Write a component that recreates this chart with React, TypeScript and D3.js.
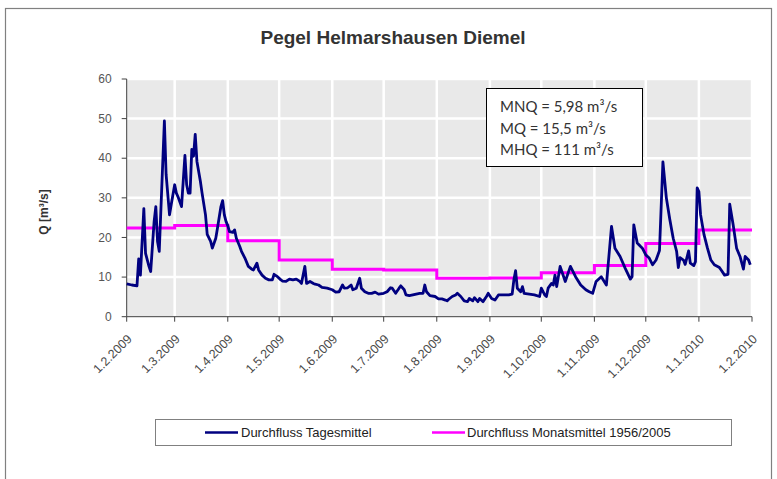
import * as d3 from 'd3'

// Durchfluss Tagesmittel: [Tage seit 1.2.2009, Q in m³/s]
const TAGESMITTEL: [number, number][] = [
  [0, 8.3], [3, 8.0], [6, 7.8], [7, 14.6], [8, 10.5], [10, 27.3], [11, 16.0], [13, 12.7], [14, 11.4],
  [16, 24.0], [17, 27.8], [18, 19.0], [19, 16.5], [22, 49.4], [23, 35.9], [25, 25.7], [26, 28.3],
  [28, 33.3], [29, 31.2], [30, 30.2], [31, 29.0], [32, 27.8], [34, 40.7], [35, 33.3], [36, 31.2],
  [37, 31.2], [38, 42.2], [39, 40.5], [40, 46.0], [41, 39.2], [43, 34.2], [44, 31.2], [46, 25.7],
  [47, 20.8], [49, 19.0], [50, 17.3], [52, 19.8], [53, 22.4], [55, 27.8], [56, 29.3], [57, 25.7], [58, 24.0],
  [59, 23.0], [60, 21.5], [62, 21.3], [63, 21.9], [64, 19.8], [66, 17.7], [67, 16.5], [69, 14.8],
  [71, 12.7], [73, 12.0], [74, 11.8], [76, 13.5], [77, 11.8], [79, 10.5], [81, 9.7], [83, 9.3],
  [85, 9.3], [86, 10.7], [88, 10.1],
  [90, 9.3], [91, 9.0], [93, 8.9], [95, 9.5], [97, 9.3], [99, 9.5], [101, 8.9], [102, 8.4],
  [104, 12.7], [105, 8.4], [107, 8.9], [109, 8.4], [110, 8.2], [112, 8.0], [114, 7.4], [117, 7.2],
  [120, 6.8], [122, 6.2], [124, 6.3], [126, 8.0], [127, 7.2], [129, 7.3], [131, 8.0], [132, 6.8],
  [134, 7.2], [136, 9.7], [137, 7.2], [139, 6.3], [141, 5.9], [143, 5.9], [145, 6.2], [147, 5.7],
  [150, 5.9], [152, 6.3], [154, 7.3], [155, 7.2], [157, 5.9], [159, 7.2], [160, 7.8], [162, 6.8],
  [163, 5.5], [165, 5.3], [167, 5.5], [169, 5.7], [171, 5.9], [173, 5.9], [174, 8.0], [175, 6.3],
  [177, 5.3], [180, 5.1],
  [182, 4.5], [184, 4.5], [186, 4.2], [187, 4.0], [188, 4.4], [190, 5.1], [192, 5.5], [193, 5.9],
  [195, 5.1], [197, 4.0], [199, 3.8], [200, 4.6], [202, 4.0], [203, 4.8], [205, 3.8], [206, 4.6],
  [208, 3.8], [210, 5.1], [211, 5.9],
  [213, 4.6], [215, 4.2], [217, 5.5], [220, 5.5], [223, 5.5], [225, 5.7], [226, 9.3], [227, 11.6],
  [228, 7.2], [230, 6.3], [231, 7.6], [232, 5.9], [235, 5.7], [238, 5.5], [241, 5.1],
  [242, 7.2], [244, 5.5], [245, 5.1], [246, 7.2], [248, 8.4], [249, 8.0], [250, 10.5], [251, 7.6],
  [253, 12.7], [256, 8.9], [259, 12.7], [262, 10.1], [265, 8.0], [268, 6.8], [270, 6.3], [272, 5.9],
  [274, 8.9], [277, 10.1], [280, 8.0], [283, 22.8], [285, 17.3], [288, 15.2], [291, 12.2], [294, 9.5],
  [295, 10.1], [296, 23.2], [298, 18.6], [300, 17.7], [301, 17.3],
  [303, 15.6], [305, 14.8], [307, 13.1], [309, 14.3], [311, 16.7], [313, 39.1], [315, 30.0], [317, 24.6],
  [319, 19.8], [321, 16.5], [322, 12.4], [323, 14.9], [325, 14.3], [326, 13.2], [328, 16.6], [329, 13.5],
  [331, 12.9], [332, 13.9], [333, 32.5],
  [334, 31.6], [335, 25.7], [337, 20.7], [339, 17.3], [341, 14.3], [343, 13.1], [346, 12.4], [347, 11.8],
  [349, 10.5], [351, 10.7], [352, 28.4], [354, 23.2], [356, 17.3], [358, 15.2], [360, 12.0], [361, 15.2],
  [363, 14.3], [364, 13.1],
]

// Durchfluss Monatsmittel 1956/2005, Feb .. Jan
const MONATSMITTEL = [22.4, 23.0, 19.2, 14.3, 12.0, 11.8, 9.7, 9.8, 11.1, 12.9, 18.5, 21.9]

const Y_TICKS = [0, 10, 20, 30, 40, 50, 60]
const KENNWERTE = ['MNQ = 5,98 m³/s', 'MQ = 15,5 m³/s', 'MHQ = 111 m³/s']
const LEGEND = ['Durchfluss Tagesmittel', 'Durchfluss Monatsmittel 1956/2005']
const TITLE = 'Pegel Helmarshausen Diemel'

const W = 777
const H = 479
const LEFT = 126.7
const RIGHT = 752
const TOP = 79
const BOTTOM = 316.7
const BLUE = '#000080'
const MAGENTA = '#ff00ff'
const FONT = '"Liberation Sans", Arial, sans-serif'

const START = new Date(2009, 1, 1)
const END = new Date(2010, 1, 1)

const x = d3.scaleTime().domain([START, END]).range([LEFT, RIGHT])
const y = d3.scaleLinear().domain([0, 60]).range([BOTTOM, TOP])

const monthTicks = d3.timeMonth.range(START, d3.timeDay.offset(END, 1))
const fmt = (d: Date) => `${d.getDate()}.${d.getMonth() + 1}.${d.getFullYear()}`

const dailyLine = d3.line<[number, number]>()
  .x((d) => x(d3.timeDay.offset(START, d[0])))
  .y((d) => y(d[1]))

const monthPts: [Date, number][] = MONATSMITTEL.map((v, i) => [monthTicks[i], v])
monthPts.push([END, MONATSMITTEL[MONATSMITTEL.length - 1]])
const stepLine = d3.line<[Date, number]>()
  .x((d) => x(d[0]))
  .y((d) => y(d[1]))
  .curve(d3.curveStepAfter)

export default function App() {
  return (
    <svg width={W} height={H} style={{ position: 'absolute', left: 0, top: 0, background: '#fff' }} fontFamily={FONT}>
      {/* chart frame */}
      <rect x={5.5} y={8.5} width={766} height={H} fill="#fff" stroke="#808080" strokeWidth={1.2} />

      <text x={393} y={44} textAnchor="middle" fontSize={19} fontWeight="bold" fill="#333">{TITLE}</text>

      {/* plot area */}
      <rect x={LEFT} y={TOP} width={RIGHT - LEFT} height={BOTTOM - TOP} fill="#e9e9e9" />
      {Y_TICKS.filter((t) => t > 0).map((t) => (
        <line key={t} x1={LEFT} x2={RIGHT} y1={y(t)} y2={y(t)} stroke="#fff" strokeWidth={2.5} />
      ))}
      {monthTicks.slice(1).map((d) => (
        <line key={+d} x1={x(d)} x2={x(d)} y1={TOP} y2={BOTTOM} stroke="#fff" strokeWidth={2.5} />
      ))}

      {/* axes */}
      <line x1={LEFT} x2={LEFT} y1={TOP} y2={BOTTOM} stroke="#404040" strokeWidth={1} />
      <line x1={LEFT} x2={RIGHT} y1={BOTTOM} y2={BOTTOM} stroke="#404040" strokeWidth={1} />
      {Y_TICKS.map((t) => (
        <g key={t}>
          <line x1={LEFT - 5} x2={LEFT} y1={y(t)} y2={y(t)} stroke="#404040" />
          <text x={LEFT - 15} y={y(t)} dy="0.35em" textAnchor="end" fontSize={12} fill="#555">{t}</text>
        </g>
      ))}
      {monthTicks.map((d) => (
        <g key={+d}>
          <line x1={x(d)} x2={x(d)} y1={BOTTOM} y2={BOTTOM + 5} stroke="#404040" />
          <text
            transform={`translate(${x(d) + 6}, ${BOTTOM + 23}) rotate(-45)`}
            textAnchor="end"
            fontSize={12.5}
            fill="#4a4a4a"
          >
            {fmt(d)}
          </text>
        </g>
      ))}
      <text transform={`translate(48, 212) rotate(-90)`} textAnchor="middle" fontSize={12} fontWeight="bold" fill="#333">
        Q [m³/s]
      </text>

      {/* series */}
      <path d={stepLine(monthPts) ?? ''} fill="none" stroke={MAGENTA} strokeWidth={3} />
      <path d={dailyLine(TAGESMITTEL) ?? ''} fill="none" stroke={BLUE} strokeWidth={2.8} strokeLinejoin="round" />

      {/* Kennwerte */}
      <rect x={486.5} y={88.5} width={156} height={78} fill="#fff" stroke="#000" strokeWidth={1} />
      {KENNWERTE.map((t, i) => (
        <text key={t} x={500} y={112 + i * 21.5} fontSize={15} fill="#333" fontFamily='Lato, "Open Sans", sans-serif'>{t}</text>
      ))}

      {/* legend */}
      <rect x={155.5} y={419.5} width={576} height={26} fill="#fff" stroke="#808080" strokeWidth={1} />
      <line x1={205} x2={238} y1={432.5} y2={432.5} stroke={BLUE} strokeWidth={2.5} />
      <text x={241} y={432.5} dy="0.35em" fontSize={13} fill="#222">{LEGEND[0]}</text>
      <line x1={432} x2={465} y1={432.5} y2={432.5} stroke={MAGENTA} strokeWidth={2.5} />
      <text x={467} y={432.5} dy="0.35em" fontSize={13} fill="#222">{LEGEND[1]}</text>
    </svg>
  )
}
